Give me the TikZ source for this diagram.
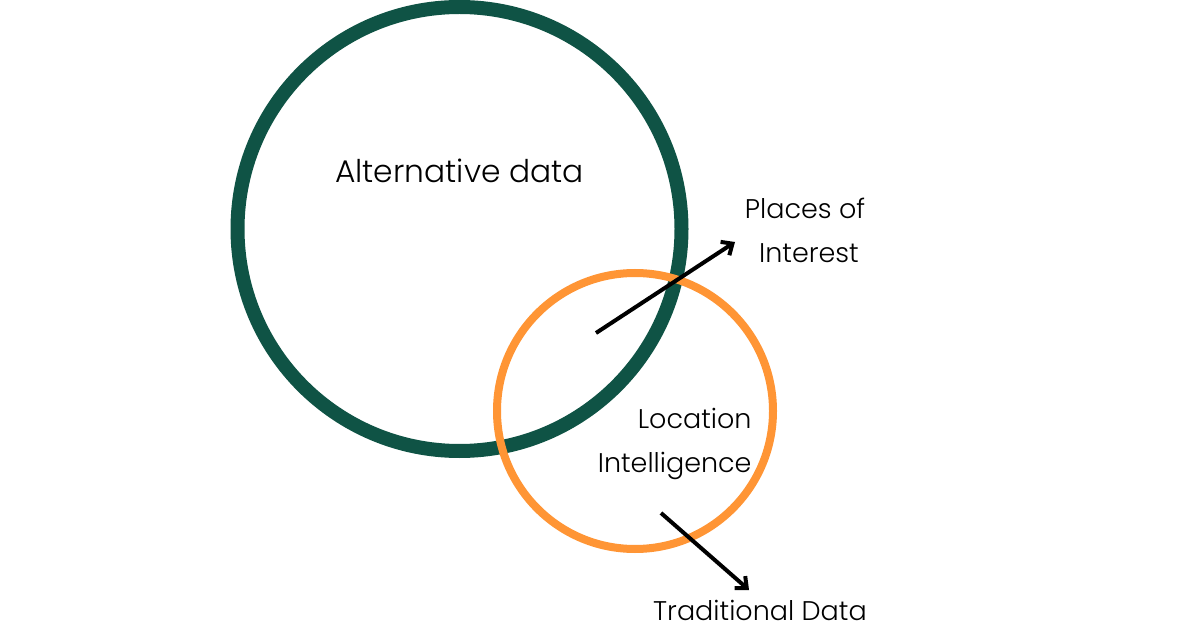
\documentclass[tikz,border=0pt]{standalone}
\usepackage{fontspec}
\setmainfont{Poppins}[UprightFont=* Light]
\usetikzlibrary{arrows.meta}
\definecolor{dgreen}{HTML}{0F5345}
\definecolor{orng}{HTML}{FF9535}
\tikzset{lab/.style={font=\fontsize{27}{43.5}\selectfont,text=black,inner sep=0pt},
arr/.style={line width=4pt,-{Straight Barb[length=9pt,width=16pt,line width=4pt]}}}
\begin{document}
\begin{tikzpicture}[x=1pt,y=-1pt,line width=1pt]
\useasboundingbox (0,0) rectangle (1200,628);
\fill[white] (0,0) rectangle (1200,628);
\node[circle,draw=dgreen,line width=14pt,minimum size=444pt,inner sep=0pt] (alt) at (459.5,229) {};
\node[circle,draw=orng,line width=8pt,minimum size=276pt,inner sep=0pt] (loc) at (635,411) {};
\node[lab,font=\fontsize{31.3}{44}\selectfont] (t1) at (459.5,171) {Alternative data};
\node[lab,align=center] (t2) at (805,230.5) {Places of\\\hspace*{8pt}Interest};
\node[lab,align=right,anchor=east] (t3) at (752,444) {Location\\Intelligence};
\node[lab] (t4) at (760,610) {Traditional Data};
\coordinate (a1) at (596,333);
\coordinate (a2) at (735,242);
\coordinate (b1) at (661,513);
\coordinate (b2) at (749,590);
\draw[arr] (a1) -- (a2);
\draw[arr] (b1) -- (b2);
\end{tikzpicture}
\end{document}
